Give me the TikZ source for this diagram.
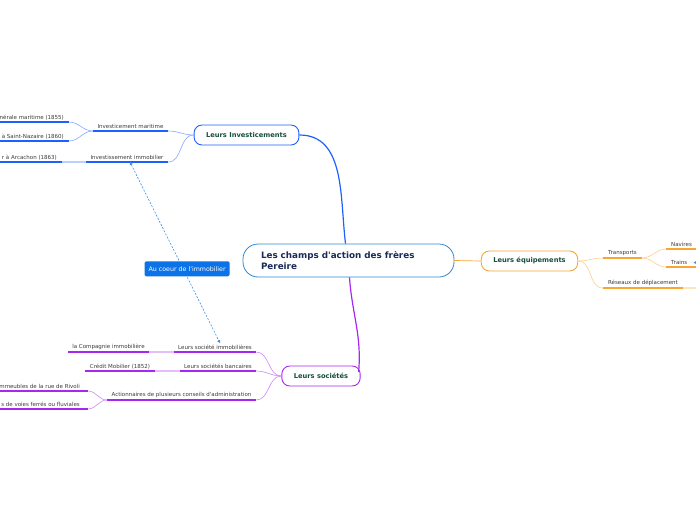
\documentclass[tikz,border=0pt]{standalone}
\usepackage{fontspec}
\setmainfont{DejaVu Sans}[Ligatures=TeXOff]
\usetikzlibrary{arrows.meta, positioning}
\definecolor{mmCen}{HTML}{2F88D0}
\definecolor{mmTitle}{HTML}{1B2B57}
\definecolor{mmTopicTxt}{HTML}{174D3C}
\definecolor{mmSubTxt}{HTML}{3A3A3A}
\definecolor{mmInv}{HTML}{1F5FFF}
\definecolor{mmSoc}{HTML}{A626F2}
\definecolor{mmEq}{HTML}{F8A531}
\definecolor{mmRel}{HTML}{3A90E8}
\definecolor{mmLab}{HTML}{0B72E7}

\begin{document}
\begin{tikzpicture}[
  x=1pt, y=-1pt,
  cen/.style={draw=mmCen, line width=0.8pt, rounded corners=15pt, fill=white, minimum height=33pt, inner xsep=18pt, text width=175pt, align=left, font=\fontsize{8.8}{11.5}\selectfont\bfseries, text=mmTitle},
  topic/.style={draw, line width=0.9pt, rounded corners=8pt, fill=white, minimum height=20pt, inner xsep=12pt, font=\fontsize{6.7}{8}\selectfont\bfseries, text=mmTopicTxt},
  sub/.style={anchor=south, inner xsep=0pt, inner ysep=2pt, font=\fontsize{5.5}{6}\selectfont, text=mmSubTxt},
  leaf/.style={sub, inner xsep=5pt},
  lab/.style={fill=mmLab, text=white, rounded corners=1.5pt, minimum height=15pt, inner xsep=4pt, font=\fontsize{6.3}{7}\selectfont},
  uline/.style={line width=1.3pt},
  branch/.style={line width=0.6pt},
  rel/.style={mmRel, line width=0.6pt, dash pattern=on 2pt off 1.5pt, {Triangle[length=3pt,width=3pt]}-{Triangle[length=3pt,width=3pt]}}
]
\useasboundingbox (0,0) rectangle (696,520);
\clip (0,0) rectangle (696,520);
\coordinate (org) at (0,0);
\coordinate (rgt) at (696,0);

% centre and main topics
\node[cen] (cen) at (348.5,260.5) {Les champs d'action des frères\\Pereire};
\node[topic, draw=mmInv] (inv) at (246.5,135) {Leurs Investicements};
\node[topic, draw=mmSoc] (soc) at (321,376) {Leurs sociétés};
\node[topic, draw=mmEq] (eq) at (529.5,261) {Leurs équipements};

\draw[mmInv, line width=1.2pt] (inv.east) to[out=0, in=97] ([xshift=-3pt]cen.north);
\draw[mmSoc, line width=1.2pt] ([xshift=1pt]cen.south) to[out=-86, in=85] ([xshift=-2pt,yshift=4pt]soc.east);
\draw[mmEq, line width=0.7pt] (cen.east) -- (eq.west);

% investicements
\node[sub, minimum width=75pt] (mar) at (130.5,131) {Investicement maritime};
\node[sub, minimum width=82pt] (imm) at (127,162) {Investissement immobilier};
\node[leaf, anchor=south east] (cgm) at (69,122) {énérale maritime (1855)};
\node[leaf, anchor=south east] (stn) at (69,141) {à Saint-Nazaire (1860)};
\node[leaf, anchor=south east] (arc) at (62,162) {r à Arcachon (1863)};

\foreach \c in {mar, imm}
  \draw[branch, mmInv!55] (inv.west) to[out=180, in=0] (\c.south east);
\foreach \c in {cgm, stn}
  \draw[branch, mmInv!55] (mar.south west) to[out=180, in=0] (\c.south east);
\draw[uline, mmInv!30] (arc.south east) -- (imm.south west);
\foreach \c in {mar, imm}
  \draw[uline, mmInv] (\c.south west) -- (\c.south east);
\foreach \c in {cgm, stn, arc}
  \draw[uline, mmInv] (\c.south east) -- (\c.south east -| org);

% sociétés
\node[sub, minimum width=82pt] (isoc) at (215,352) {Leurs société immobilières};
\node[sub, minimum width=76pt] (banc) at (218,371) {Leurs sociétés bancaires};
\node[sub, minimum width=149pt] (act) at (181.5,400) {Actionnaires de plusieurs conseils d'administration};
\node[sub, minimum width=81pt] (cimm) at (108.5,352) {la Compagnie immobilière};
\node[sub, minimum width=70pt] (cmob) at (120,371) {Crédit Mobilier (1852)};
\node[leaf, anchor=south east, inner xsep=8pt] (riv) at (88,391) {mmeubles de la rue de Rivoli};
\node[leaf, anchor=south east, inner xsep=8pt] (voi) at (88,409) {s de voies ferrés ou fluviales};

\foreach \c in {isoc, banc, act}
  \draw[branch, mmSoc!55] (soc.west) to[out=180, in=0] (\c.south east);
\foreach \c in {riv, voi}
  \draw[branch, mmSoc!55] (act.south west) to[out=180, in=0] (\c.south east);
\draw[uline, mmSoc!30] (cimm.south east) -- (isoc.south west);
\draw[uline, mmSoc!30] (cmob.south east) -- (banc.south west);
\foreach \c in {isoc, banc, act, cimm, cmob}
  \draw[uline, mmSoc] (\c.south west) -- (\c.south east);
\foreach \c in {riv, voi}
  \draw[uline, mmSoc] (\c.south east) -- (\c.south east -| org);

% équipements
\node[sub, minimum width=39pt] (tra) at (622.5,258) {Transports};
\node[sub, minimum width=80pt] (res) at (643,288) {Réseaux de déplacement};
\node[leaf, anchor=south west] (nav) at (666,249) {Navires};
\node[leaf, anchor=south west] (trn) at (666,267) {Trains};

\foreach \c in {tra, res}
  \draw[branch, mmEq!55] (eq.east) to[out=0, in=180] (\c.south west);
\foreach \c in {nav, trn}
  \draw[branch, mmEq!55] (tra.south east) to[out=0, in=180] (\c.south west);
\draw[uline, mmEq!30] (res.south east) -- (res.south east -| rgt);
\foreach \c in {tra, res}
  \draw[uline, mmEq] (\c.south west) -- (\c.south east);
\foreach \c in {nav, trn}
  \draw[uline, mmEq] (\c.south west) -- (\c.south west -| rgt);

% relation
\draw[rel] ([xshift=3pt]imm.south) -- node[lab, pos=0.59, xshift=4pt] (coeur) {Au coeur de l'immobilier} ([xshift=5pt]isoc.north);
\coordinate (trx) at (706,262);
\draw[rel, -{Triangle[length=3pt,width=3pt]}] (trx) -- ([xshift=1pt]trn.east);
\end{tikzpicture}
\end{document}
